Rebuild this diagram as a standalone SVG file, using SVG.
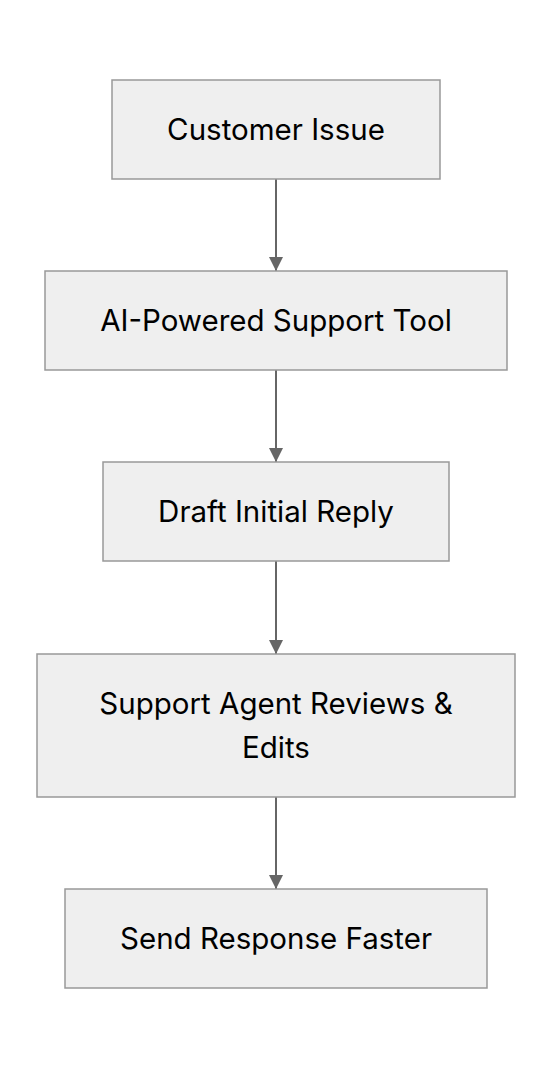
<svg xmlns="http://www.w3.org/2000/svg" width="552" height="1068" viewBox="0 0 552 1068">
<style>
.n rect{fill:#efefef;stroke:#999999;stroke-width:1.5}
.n text{font-family:Inter,"Noto Sans",sans-serif;font-size:29.5px;fill:#000;text-anchor:middle}
.e line{stroke:#666666;stroke-width:2}
</style>
<defs>
<marker id="a" viewBox="0 0 14 14" refX="14" refY="7" markerWidth="14" markerHeight="14" markerUnits="userSpaceOnUse" orient="auto"><path d="M0,0 L14,7 L0,14 z" fill="#666666"/></marker>
</defs>
<rect width="552" height="1068" fill="#ffffff"/>
<g class="e" id="connectors">
<line x1="276" y1="179" x2="276" y2="271" marker-end="url(#a)"/>
<line x1="276" y1="370" x2="276" y2="462" marker-end="url(#a)"/>
<line x1="276" y1="561" x2="276" y2="654" marker-end="url(#a)"/>
<line x1="276" y1="797" x2="276" y2="889" marker-end="url(#a)"/>
</g>
<g class="n" id="customer-issue"><rect x="112" y="80" width="328" height="99"/><text x="276" y="139.5">Customer Issue</text></g>
<g class="n" id="ai-tool"><rect x="45" y="271" width="462" height="99"/><text x="276" y="330.5">AI-Powered Support Tool</text></g>
<g class="n" id="draft-reply"><rect x="103" y="462" width="346" height="99"/><text x="276" y="521.5">Draft Initial Reply</text></g>
<g class="n" id="agent-review"><rect x="37" y="654" width="478" height="143"/><text x="276" y="713.5">Support Agent Reviews &amp;</text><text x="276" y="757.5">Edits</text></g>
<g class="n" id="send-response"><rect x="65" y="889" width="422" height="99"/><text x="276" y="948.5">Send Response Faster</text></g>
</svg>
